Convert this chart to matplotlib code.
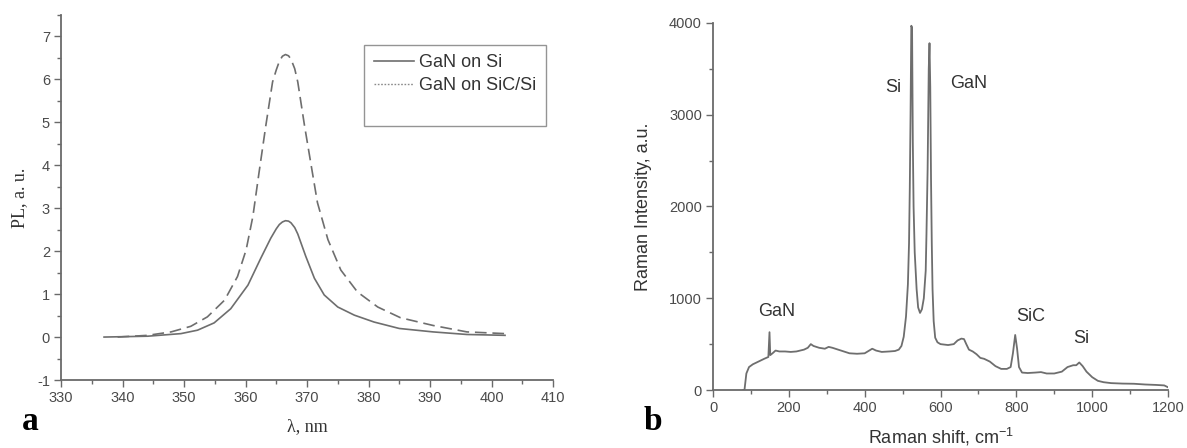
import matplotlib
matplotlib.use("Agg")
import matplotlib.pyplot as plt
from matplotlib.lines import Line2D
from matplotlib.ticker import MultipleLocator

plt.rcParams['font.family'] = ['Liberation Sans', 'DejaVu Sans']
plt.rcParams['axes.unicode_minus'] = False
plt.rcParams['mathtext.default'] = 'regular'

# ---- Panel a: PL spectra ----
pl_si_x = [337.0, 344.1, 349.5, 352.2, 354.9, 357.6, 360.4, 362.5, 364.1, 365.0, 365.5,
           366.0, 366.5, 367.0, 367.4, 368.0, 368.5, 369.8, 371.2, 372.8, 375.0, 377.7,
           380.9, 385.0, 390.5, 396.0, 402.2]
pl_si_y = [0.0, 0.02, 0.08, 0.16, 0.33, 0.66, 1.21, 1.84, 2.30, 2.52, 2.62,
           2.68, 2.71, 2.70, 2.66, 2.55, 2.40, 1.88, 1.37, 0.98, 0.70, 0.51,
           0.35, 0.20, 0.12, 0.06, 0.04]

pl_sic_x = [339.2, 344.1, 347.9, 351.1, 353.8, 356.6, 358.7, 360.1, 361.2, 362.2,
            363.3, 364.4, 365.0, 365.5, 366.0, 366.5, 367.0, 367.4, 368.0, 368.5,
            369.6, 370.7, 371.7, 373.4, 375.5, 378.2, 381.5, 385.2, 390.5, 396.0, 402.2]
pl_sic_y = [0.0, 0.04, 0.12, 0.25, 0.47, 0.86, 1.41, 2.03, 2.81, 3.83,
            4.92, 5.94, 6.22, 6.42, 6.54, 6.58, 6.55, 6.47, 6.25, 5.94,
            4.92, 3.98, 3.13, 2.27, 1.56, 1.05, 0.70, 0.45, 0.27, 0.12, 0.08]

series_labels = ["GaN on Si", "GaN on SiC/Si"]

# ---- Panel b: Raman spectrum ----
raman_x = [80, 83, 88, 95, 105, 115, 125, 135, 146, 149, 151, 157, 165, 175, 190,
           205, 220, 240, 250, 258, 265, 280, 295, 305, 315, 330, 345, 360, 380,
           400, 412, 420, 430, 445, 465, 480, 490, 497, 503, 509, 514, 517, 519,
           521, 523, 525, 527, 529, 532, 537, 541, 546, 551, 556, 561, 563, 566,
           569, 571, 573, 575, 577, 579, 582, 586, 592,
           600, 620, 635, 645, 655, 662, 668, 675, 685, 695, 705, 715, 730,
           745, 760, 775, 785, 791, 797, 802, 807, 815, 830, 850, 865, 880, 900,
           920, 935, 950, 958, 966, 975, 985, 1000, 1015, 1030, 1050, 1080, 1110,
           1140, 1170, 1190, 1200]
raman_y = [0, 0, 180, 250, 280, 300, 320, 340, 360, 630, 380, 400, 430, 420, 420,
           415, 420, 440, 460, 500, 480, 460, 450, 470, 460, 440, 420, 400, 395,
           400, 430, 450, 430, 415, 420, 425, 440, 480, 580, 800, 1150, 1600, 2200,
           3000, 3970, 3950, 2700, 2000, 1500, 1100, 900, 840, 880, 1000, 1300, 1700, 2400,
           3500, 3780, 3300, 2300, 1600, 1100, 750, 570, 520,
           500, 490, 500, 540, 560, 555, 500, 440, 420, 390, 350, 340, 310,
           260, 230, 230, 250, 400, 600, 450, 250, 190, 185, 190, 195, 180, 180,
           200, 250, 270, 270, 300, 260, 200, 140, 100, 85, 75, 70, 68,
           60, 55, 50, 30]

peak_labels = ["GaN", "Si", "GaN", "SiC", "Si"]
peak_label_x = [168, 475, 674, 837, 971]
peak_label_y = [860, 3300, 3340, 800, 560]

line_col = '#6e6e6e'
spine_col = '#6a6a6a'
tick_col = '#4a4a4a'

fig = plt.figure(figsize=(11.87, 4.48), dpi=100)

# Panel a
ax1 = fig.add_axes([61/1187, (448-380)/448, 492/1187, 365/448])
ax1.plot(pl_si_x, pl_si_y, color=line_col, lw=1.2, ls='-')
ax1.plot(pl_sic_x, pl_sic_y, color=line_col, lw=1.2, ls=(0, (7, 3.5)))
ax1.set_xlim(330, 410)
ax1.set_ylim(-1, 7.5)
ax1.xaxis.set_major_locator(MultipleLocator(10))
ax1.xaxis.set_minor_locator(MultipleLocator(5))
ax1.yaxis.set_major_locator(MultipleLocator(1))
ax1.yaxis.set_minor_locator(MultipleLocator(0.5))
ax1.set_yticks(range(-1, 8))
ax1.set_xlabel("λ, nm", family=['Liberation Serif', 'DejaVu Serif'], fontsize=13,
               color='#333333', labelpad=9)
ax1.set_ylabel("PL, a. u.", family=['Liberation Serif', 'DejaVu Serif'], fontsize=13,
               color='#333333', labelpad=6)

handles = [Line2D([], [], color=line_col, lw=1.2, ls='-'),
           Line2D([], [], color='#8a8a8a', lw=1.0, ls=(0, (1.2, 1.2))),
           Line2D([], [], color='none', lw=0)]
leg = ax1.legend(handles, series_labels + [""], loc='upper right',
                 bbox_to_anchor=(0.986, 0.918), borderaxespad=0, fancybox=False,
                 frameon=True, fontsize=13, handlelength=2.2, handletextpad=0.33,
                 labelspacing=0.32, borderpad=0.52, labelcolor='#333333')
leg.get_frame().set_edgecolor('#7a7a7a')
leg.get_frame().set_linewidth(1.0)

# Panel b
ax2 = fig.add_axes([713/1187, (448-390)/448, 455/1187, 367/448])
ax2.plot(raman_x, raman_y, color=line_col, lw=1.3)
ax2.set_xlim(0, 1200)
ax2.set_ylim(0, 4000)
ax2.xaxis.set_major_locator(MultipleLocator(200))
ax2.xaxis.set_minor_locator(MultipleLocator(100))
ax2.yaxis.set_major_locator(MultipleLocator(1000))
ax2.yaxis.set_minor_locator(MultipleLocator(500))
ax2.set_xlabel("Raman shift, cm$^{-1}$", fontsize=13, color='#333333', labelpad=8)
ax2.set_ylabel("Raman Intensity, a.u.", fontsize=13, color='#333333', labelpad=12)
for lab, x, y in zip(peak_labels, peak_label_x, peak_label_y):
    ax2.text(x, y, lab, ha='center', va='center', fontsize=13, color='#333333')

for ax in (ax1, ax2):
    for s in ('top', 'right'):
        ax.spines[s].set_visible(False)
    for s in ('left', 'bottom'):
        ax.spines[s].set_color(spine_col)
        ax.spines[s].set_linewidth(1.3)
    ax.tick_params(which='major', direction='out', length=5, width=1.0,
                   color=spine_col, labelcolor=tick_col, labelsize=10.5, pad=3)
    ax.tick_params(which='minor', direction='out', length=3, width=1.0, color=spine_col)
    ax.patch.set_alpha(0)

fig.text(30/1187, 1 - 430/448, "a", family=['Liberation Serif', 'DejaVu Serif'],
         fontsize=24, fontweight='bold', ha='center', va='baseline')
fig.text(653/1187, 1 - 430/448, "b", family=['Liberation Serif', 'DejaVu Serif'],
         fontsize=24, fontweight='bold', ha='center', va='baseline')

fig.savefig("out.png", dpi=100)
